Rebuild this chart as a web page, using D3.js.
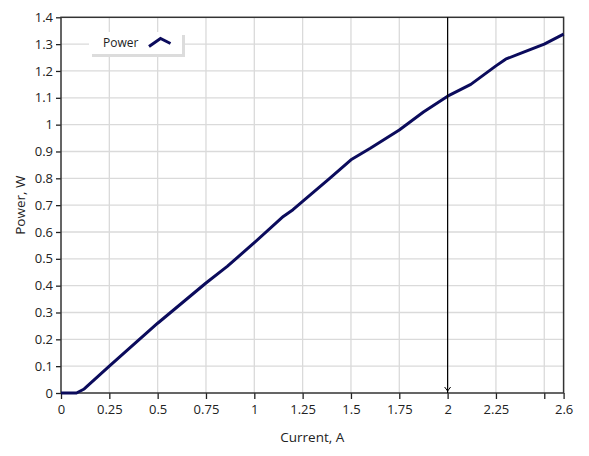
<!DOCTYPE html>
<html>
<head>
<meta charset="utf-8">
<script src="https://cdn.jsdelivr.net/npm/d3@7"></script>
<style>
  body { margin: 0; background: #fff; }
  text { font-family: "Open Sans", "Noto Sans", sans-serif; fill: #222; }
</style>
</head>
<body>
<svg id="chart" width="589" height="456"></svg>
<script>
// readings of current (A) and power (W)
var current = [0, 0.08, 0.12, 0.25, 0.5, 0.75, 0.86, 1.0, 1.15, 1.2, 1.25, 1.39, 1.5, 1.6, 1.75, 1.875, 2.0, 2.12, 2.25, 2.3, 2.39, 2.5, 2.6];
var power = [0, 0, 0.015, 0.1, 0.26, 0.41, 0.472, 0.56, 0.658, 0.683, 0.714, 0.8, 0.869, 0.912, 0.98, 1.047, 1.106, 1.15, 1.219, 1.244, 1.269, 1.3, 1.337];
var xTicks = [0, 0.25, 0.5, 0.75, 1, 1.25, 1.5, 1.75, 2, 2.25, 2.5, 2.6];
var xLabels = ["0", "0.25", "0.5", "0.75", "1", "1.25", "1.5", "1.75", "2", "2.25", "", "2.6"];
var yTicks = [0, 0.1, 0.2, 0.3, 0.4, 0.5, 0.6, 0.7, 0.8, 0.9, 1, 1.1, 1.2, 1.3, 1.4];
var cursorX = 2;
var seriesName = "Power";

var svg = d3.select("#chart");
var pLeft = 61, pRight = 563.6, pTop = 17.3, pBottom = 393;

var x = d3.scaleLinear().domain([0, 2.6]).range([pLeft, pRight]);
var y = d3.scaleLinear().domain([0, 1.4]).range([pBottom, pTop]);

// grid
svg.append("g")
    .selectAll("line")
    .data(xTicks.slice(1, -1))
    .enter()
    .append("line")
    .attr("x1", function (d) { return x(d); })
    .attr("x2", function (d) { return x(d); })
    .attr("y1", pTop)
    .attr("y2", pBottom)
    .attr("stroke", "#dadada")
    .attr("stroke-width", 1.3);

svg.append("g")
    .selectAll("line")
    .data(yTicks.slice(1, -1))
    .enter()
    .append("line")
    .attr("x1", pLeft)
    .attr("x2", pRight)
    .attr("y1", function (d) { return y(d); })
    .attr("y2", function (d) { return y(d); })
    .attr("stroke", "#dadada")
    .attr("stroke-width", 1.3);

// axes
var xAxis = d3.axisBottom(x)
    .tickValues(xTicks)
    .tickSize(6)
    .tickPadding(6)
    .tickFormat(function (d, i) { return xLabels[i]; });

var yAxis = d3.axisLeft(y)
    .tickValues(yTicks)
    .tickSize(5)
    .tickPadding(3)
    .tickFormat(function (d) { return d3.format("")(d); });

var gx = svg.append("g")
    .attr("transform", "translate(0," + pBottom + ")")
    .call(xAxis);
var gy = svg.append("g")
    .attr("transform", "translate(" + pLeft + ",0)")
    .call(yAxis);

[gx, gy].forEach(function (g) {
    g.select(".domain").remove();
    g.selectAll(".tick line").attr("stroke", "#222").attr("stroke-width", 1.3);
    g.selectAll(".tick text")
        .style("font-size", "13px")
        .style("font-family", "'Open Sans', 'Noto Sans', sans-serif")
        .attr("fill", "#222");
});

// frame
svg.append("rect")
    .attr("x", pLeft)
    .attr("y", pTop)
    .attr("width", pRight - pLeft)
    .attr("height", pBottom - pTop)
    .attr("fill", "none")
    .attr("stroke", "#333")
    .attr("stroke-width", 1.5);

// axis titles
svg.append("text")
    .attr("x", (pLeft + pRight) / 2)
    .attr("y", 442)
    .attr("text-anchor", "middle")
    .style("font-size", "13.5px")
    .text("Current, A");

svg.append("text")
    .attr("transform", "translate(25," + (pTop + pBottom) / 2 + ") rotate(-90)")
    .attr("text-anchor", "middle")
    .style("font-size", "13.5px")
    .text("Power, W");

// curve
var pts = current.map(function (c, i) { return [c, power[i]]; });
var line = d3.line()
    .x(function (d) { return x(d[0]); })
    .y(function (d) { return y(d[1]); });

svg.append("path")
    .datum(pts)
    .attr("d", line)
    .attr("fill", "none")
    .attr("stroke", "#0b0b5c")
    .attr("stroke-width", 3)
    .attr("stroke-linejoin", "round");

// cursor
svg.append("line")
    .attr("x1", x(cursorX))
    .attr("x2", x(cursorX))
    .attr("y1", pTop)
    .attr("y2", pBottom)
    .attr("stroke", "#000")
    .attr("stroke-width", 1.2);
svg.append("path")
    .attr("d", "M" + (x(cursorX) - 3) + "," + (pBottom - 6) + "L" + x(cursorX) + "," + (pBottom - 2) + "L" + (x(cursorX) + 3) + "," + (pBottom - 6))
    .attr("fill", "none")
    .attr("stroke", "#000")
    .attr("stroke-width", 1);

// legend
var lg = svg.append("g");
lg.append("rect")
    .attr("x", 92).attr("y", 35).attr("width", 93).attr("height", 22)
    .attr("fill", "#dcdcdc");
lg.append("rect")
    .attr("x", 89).attr("y", 32).attr("width", 93).attr("height", 22)
    .attr("fill", "#fff");
lg.append("text")
    .attr("x", 103)
    .attr("y", 46.5)
    .style("font-size", "12px")
    .text(seriesName);
lg.append("path")
    .attr("d", "M149,46.5L160.5,38.5L170.5,43.5")
    .attr("fill", "none")
    .attr("stroke", "#0b0b5c")
    .attr("stroke-width", 3);
</script>
</body>
</html>
